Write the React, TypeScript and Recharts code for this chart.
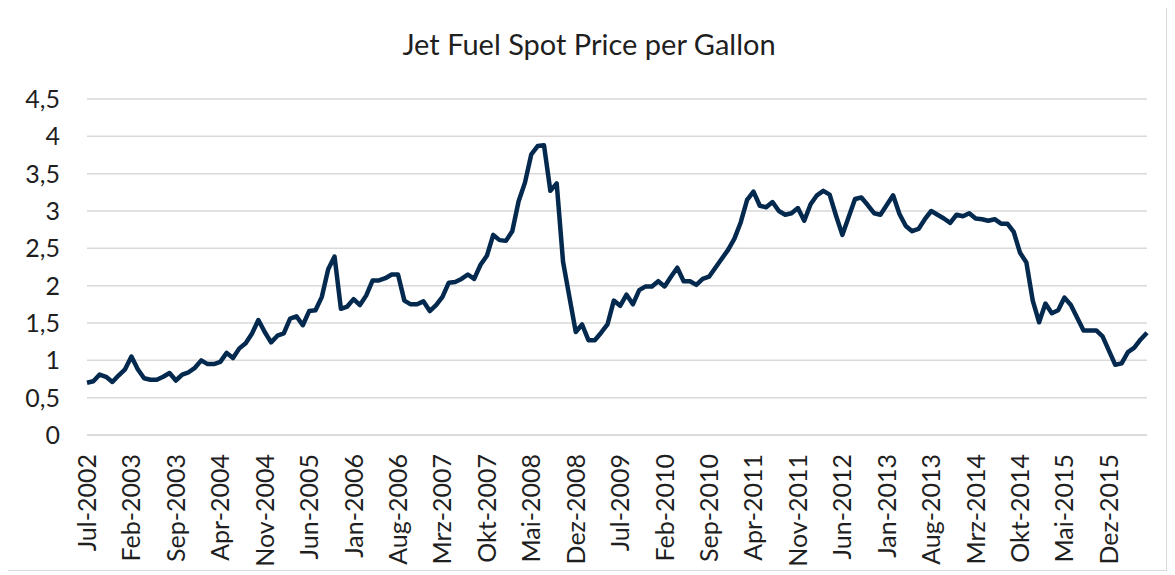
import { LineChart, Line, XAxis, YAxis, CartesianGrid } from 'recharts';

const monthNames = ['Jan', 'Feb', 'Mrz', 'Apr', 'Mai', 'Jun', 'Jul', 'Aug', 'Sep', 'Okt', 'Nov', 'Dez'];
const startYear = 2002;
const startMonth = 6; // Jul

// monthly jet fuel spot price, Jul-2002 .. Jun-2016 (USD per gallon)
const prices = [
    0.70, 0.72, 0.81, 0.78, 0.71, 0.80, 0.88, 1.05, 0.88, 0.76, 0.74, 0.74,
    0.78, 0.83, 0.73, 0.81, 0.84, 0.90, 1.00, 0.95, 0.95, 0.98, 1.10, 1.03,
    1.16, 1.23, 1.36, 1.54, 1.38, 1.24, 1.33, 1.36, 1.56, 1.59, 1.47, 1.66,
    1.67, 1.85, 2.22, 2.39, 1.69, 1.72, 1.82, 1.74, 1.87, 2.07, 2.07, 2.10,
    2.15, 2.15, 1.80, 1.75, 1.75, 1.79, 1.66, 1.74, 1.85, 2.04, 2.05, 2.09,
    2.15, 2.09, 2.28, 2.40, 2.68, 2.61, 2.60, 2.73, 3.13, 3.38, 3.76, 3.87,
    3.88, 3.27, 3.37, 2.32, 1.85, 1.38, 1.48, 1.27, 1.27, 1.37, 1.48, 1.80,
    1.73, 1.88, 1.75, 1.94, 1.99, 1.99, 2.06, 1.99, 2.12, 2.24, 2.06, 2.06,
    2.01, 2.09, 2.12, 2.24, 2.36, 2.48, 2.63, 2.85, 3.15, 3.26, 3.07, 3.05,
    3.12, 3.00, 2.95, 2.97, 3.04, 2.87, 3.09, 3.21, 3.27, 3.22, 2.94, 2.68,
    2.92, 3.16, 3.18, 3.08, 2.97, 2.95, 3.08, 3.21, 2.96, 2.80, 2.73, 2.76,
    2.89, 3.00, 2.95, 2.90, 2.84, 2.95, 2.93, 2.97, 2.90, 2.89, 2.87, 2.89,
    2.83, 2.83, 2.72, 2.44, 2.31, 1.80, 1.51, 1.76, 1.63, 1.67, 1.84, 1.74,
    1.57, 1.40, 1.40, 1.40, 1.32, 1.13, 0.94, 0.96, 1.11, 1.17, 1.28, 1.37,
];

const yTicks = [0, 0.5, 1, 1.5, 2, 2.5, 3, 3.5, 4, 4.5];

const months = prices.map((_, i) => {
    const m = startMonth + i;
    return `${monthNames[m % 12]}-${startYear + Math.floor(m / 12)}`;
});

const data = months.map((month, i) => ({ month, price: prices[i] }));

const FONT = 'Lato, "Open Sans", sans-serif';
const TEXT = '#1f1f1f';

function MonthTick({ x, y, payload }: any) {
    return (
        <text
            x={x}
            y={y}
            transform={`rotate(-90, ${x}, ${y})`}
            textAnchor="end"
            dy="0.36em"
            fontSize={25}
            fontFamily={FONT}
            fill={TEXT}
        >
            {payload.value}
        </text>
    );
}

export default function App() {
    return (
        <div
            style={{
                position: 'relative',
                width: 1160,
                height: 566,
                marginTop: -3,
                marginLeft: -1,
                border: '1px solid #d9d9d9',
                boxSizing: 'border-box',
                background: '#fff',
            }}
        >
            <div
                style={{
                    position: 'absolute',
                    top: 23,
                    left: 0,
                    width: 1162,
                    textAlign: 'center',
                    fontFamily: FONT,
                    fontSize: 29,
                    lineHeight: '29px',
                    color: TEXT,
                }}
            >
                Jet Fuel Spot Price per Gallon
            </div>
            <LineChart width={1158} height={564} data={data} margin={{ top: 93, right: 19, bottom: 0, left: 0 }}>
                <CartesianGrid vertical={false} stroke="#d9d9d9" strokeWidth={1.5} />
                <XAxis
                    dataKey="month"
                    interval={6}
                    height={135}
                    axisLine={{ stroke: '#d9d9d9', strokeWidth: 1.5 }}
                    tickLine={false}
                    tickSize={0}
                    tickMargin={19}
                    tick={<MonthTick />}
                />
                <YAxis
                    domain={[0, 4.5]}
                    ticks={yTicks}
                    width={79}
                    axisLine={false}
                    tickLine={false}
                    tickSize={0}
                    tickMargin={27}
                    tickFormatter={(v: number) => String(v).replace('.', ',')}
                    tick={{ fontSize: 25, fontFamily: FONT, fill: TEXT }}
                />
                <Line
                    type="linear"
                    dataKey="price"
                    stroke="#04294f"
                    strokeWidth={4.5}
                    strokeLinejoin="round"
                    dot={false}
                    isAnimationActive={false}
                />
            </LineChart>
        </div>
    );
}
